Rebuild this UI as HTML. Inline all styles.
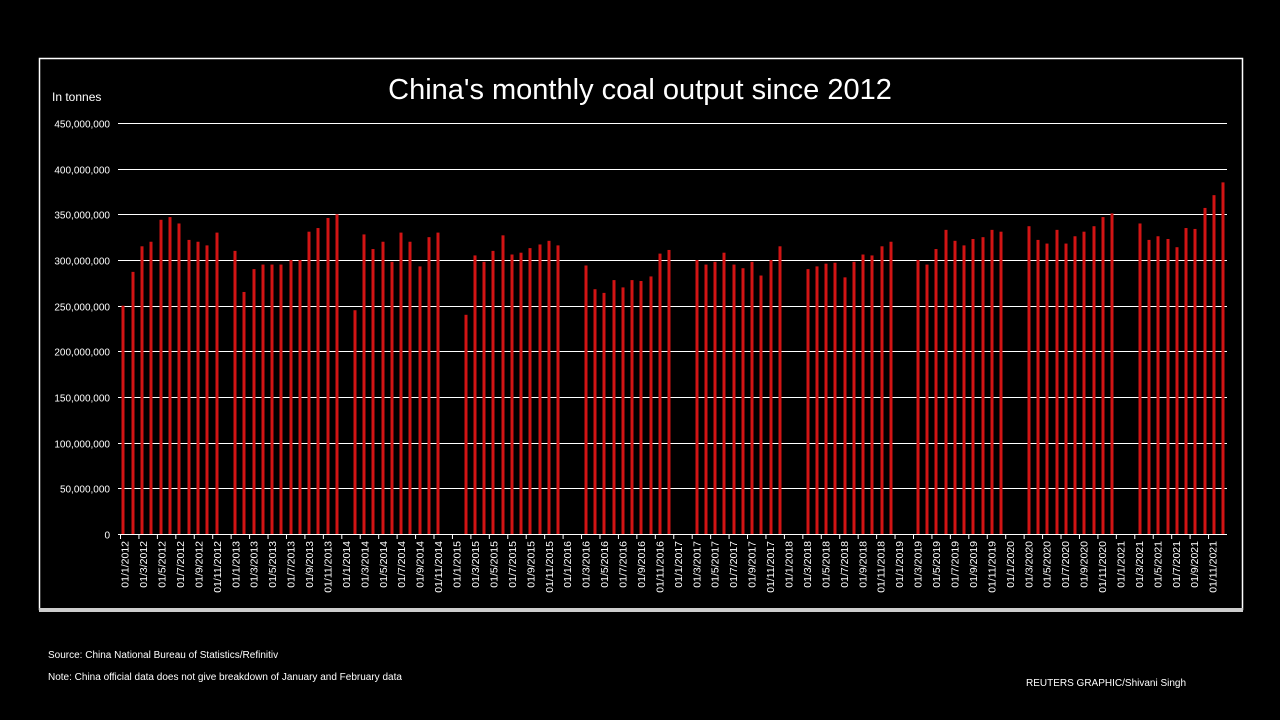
<!DOCTYPE html>
<html><head><meta charset="utf-8"><style>
html,body{margin:0;padding:0;background:#000;}
svg{display:block;font-family:"Liberation Sans",Arial,sans-serif;}
</style></head><body>
<svg width="1280" height="720" viewBox="0 0 1280 720" xmlns="http://www.w3.org/2000/svg">
<rect width="1280" height="720" fill="#000"/>
<rect x="39.5" y="58.5" width="1203" height="551" fill="none" stroke="#fff" stroke-width="1.5"/>
<rect x="39" y="608" width="1204" height="4" fill="#ccc"/>
<text x="640" y="99" fill="#fff" font-size="29" text-anchor="middle">China's monthly coal output since 2012</text>
<text x="52" y="101" fill="#fff" font-size="12">In tonnes</text>
<g id="grid" stroke="#fff" stroke-width="1"></g>
<g id="ylab" fill="#fff" font-size="10" text-anchor="end"></g>
<g id="bars" fill="#d21414"></g>
<g id="xlab" fill="#fff" font-size="10.5"></g>
<text x="48" y="658" fill="#fff" font-size="10">Source: China National Bureau of Statistics/Refinitiv</text>
<text x="48" y="680" fill="#fff" font-size="10">Note:  China  official data does not give breakdown of January and February data</text>
<text x="1026" y="686" fill="#fff" font-size="10">REUTERS   GRAPHIC/Shivani  Singh</text>
</svg>
<script>
const NS="http://www.w3.org/2000/svg";
function el(p,t,a,txt){const e=document.createElementNS(NS,t);for(const k in a)e.setAttribute(k,a[k]);if(txt!=null)e.textContent=txt;document.getElementById(p).appendChild(e);}
const y0=534,k=(534-123)/450;
for(let i=0;i<=9;i++){const v=i*50,y=Math.round(y0-v*k)+0.5;
 el('grid','line',{x1:118,x2:1227,y1:y,y2:y});
 el('ylab','text',{x:110,y:y+4},i==0?'0':(v*1e6).toLocaleString('en-US'));}
const d=[
[123,250],[133,287],[142,315],[151,320],[161,344],[170,347],[179,340],[189,322],[198,320],[207,316],[217,330],
[235,310],[244,265],[254,290],[263,295],[272,295],[281,295],[291,300],[300,300],[309,331],[318,335],[328,346],[337,350],
[355,245],[364,328],[373,312],[383,320],[392,298],[401,330],[410,320],[420,293],[429,325],[438,330],
[466,240],[475,305],[484,298],[493,310],[503,327],[512,306],[521,308],[530,313],[540,317],[549,321],[558,316],
[586,294],[595,268],[604,264],[614,278],[623,270],[632,278],[641,277],[651,282],[660,307],[669,311],
[697,300],[706,295],[715,298],[724,308],[734,295],[743,291],[752,298],[761,283],[771,300],[780,315],
[808,290],[817,293],[826,296],[835,297],[845,281],[854,298],[863,306],[872,305],[882,315],[891,320],
[918,300],[927,295],[936,312],[946,333],[955,321],[964,316],[973,323],[983,325],[992,333],[1001,331],
[1029,337],[1038,322],[1047,318],[1057,333],[1066,318],[1075,326],[1084,331],[1094,337],[1103,347],[1112,351],
[1140,340],[1149,322],[1158,326],[1168,323],[1177,314],[1186,335],[1195,334],[1205,357],[1214,371],[1223,385]];
for(const [x,v] of d){const h=v*k;el('bars','rect',{x:x-1.5,y:y0-h,width:3,height:h});}
el('grid','line',{x1:120,x2:1227,y1:534.5,y2:534.5});
const sw=(1227-120.5)/120;
for(let i=0;i<60;i++){const xt=120.5+i*2*sw;
 el('grid','line',{x1:xt,x2:xt,y1:534,y2:539});
 const m=[1,3,5,7,9,11][i%6],yr=2012+Math.floor(i/6);
 const xc=xt+sw/2+3.5;
 el('xlab','text',{x:xc,y:541,transform:`rotate(-90 ${xc} 541)`,'text-anchor':'end'},`01/${m}/${yr}`);}
</script>
</body></html>
